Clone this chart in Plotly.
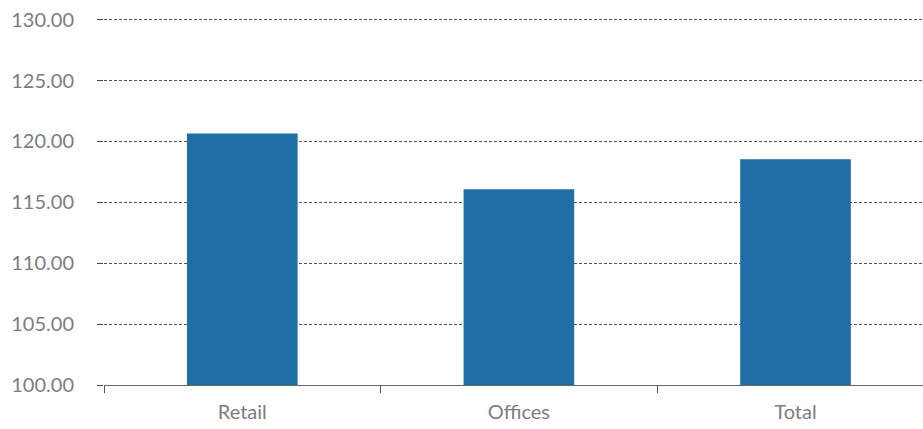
import plotly.graph_objects as go

categories = ["Retail", "Offices", "Total"]
values = [120.66, 116.07, 118.53]
y_ticks = [100, 105, 110, 115, 120, 125, 130]
y_tick_labels = ["100.00", "105.00", "110.00", "115.00", "120.00", "125.00", "130.00"]

fig = go.Figure(
    go.Bar(
        x=categories,
        y=values,
        width=0.4,
        marker=dict(color="#1f6ea5", line=dict(width=0)),
        hoverinfo="x+y",
    )
)

font_family = "Lato, 'Open Sans', sans-serif"

fig.update_layout(
    width=923,
    height=429,
    margin=dict(l=104, r=0, t=16, b=44),
    paper_bgcolor="white",
    plot_bgcolor="white",
    showlegend=False,
    font=dict(family=font_family, color="#7d7d7d", size=20),
    bargap=0.6,
)

fig.update_xaxes(
    type="category",
    range=[-0.5, 2.461],
    tickson="boundaries",
    ticks="outside",
    ticklen=7,
    tickwidth=1,
    tickcolor="#555555",
    showline=True,
    linecolor="#666666",
    linewidth=1,
    showgrid=False,
    tickfont=dict(size=20, color="#7d7d7d"),
    ticklabelstandoff=9,
)

fig.update_yaxes(
    range=[100, 130.3],
    tickvals=y_ticks,
    ticktext=y_tick_labels,
    ticks="outside",
    ticklen=6,
    tickwidth=1,
    tickcolor="#444444",
    showline=False,
    showgrid=True,
    gridcolor="#555555",
    gridwidth=1,
    griddash="3px,2px",
    zeroline=False,
    tickfont=dict(size=20, color="#7d7d7d"),
    ticklabelstandoff=19,
)

fig.write_html("out.html")
